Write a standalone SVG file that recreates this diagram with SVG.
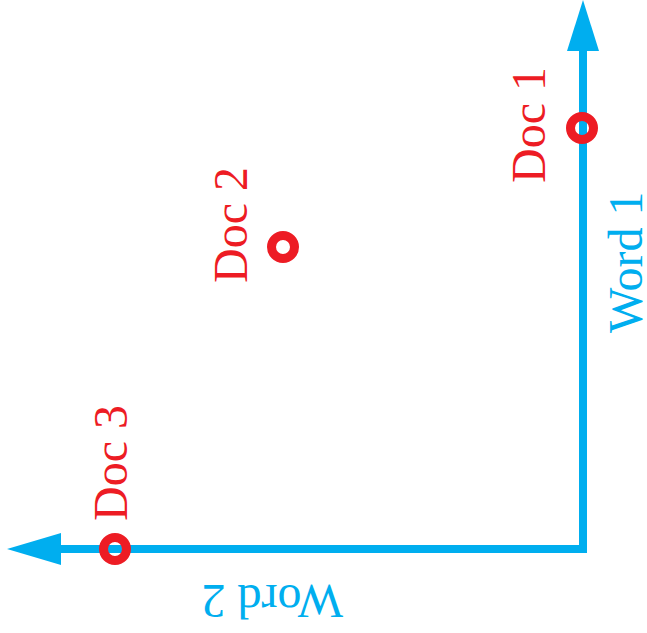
<svg xmlns="http://www.w3.org/2000/svg" width="647" height="633" viewBox="0 0 647 633">
<style>
.axis{stroke:#00AEEF;stroke-width:8;fill:none}
.head{fill:#00AEEF}
.pt{fill:none;stroke:#ED1C24;stroke-width:9}
.lbl{font-family:"Liberation Serif","Times New Roman",serif;font-size:48px}
.red{fill:#ED1C24}
.blue{fill:#00AEEF}
</style>
<rect width="647" height="633" fill="#fff"/>
<g id="connectors">
<polyline class="axis" points="583,48 583,549 59,549"/>
<polygon class="head" points="583,0 567,51 599,51"/>
<polygon class="head" points="7,549 61,533 61,565"/>
</g>
<g id="word1"><text class="lbl blue" transform="translate(642,333) rotate(-90)">Word 1</text></g>
<g id="word2"><text class="lbl blue" transform="translate(343,585) rotate(180)">Word 2</text></g>
<g id="doc1">
<circle class="pt" cx="582" cy="128" r="11.5"/>
<text class="lbl red" transform="translate(545,183) rotate(-90)">Doc 1</text>
</g>
<g id="doc2">
<circle class="pt" cx="283" cy="247" r="11.5"/>
<text class="lbl red" transform="translate(247,283) rotate(-90)">Doc 2</text>
</g>
<g id="doc3">
<circle class="pt" cx="115" cy="549" r="11.5"/>
<text class="lbl red" transform="translate(127,521) rotate(-90)">Doc 3</text>
</g>
</svg>
